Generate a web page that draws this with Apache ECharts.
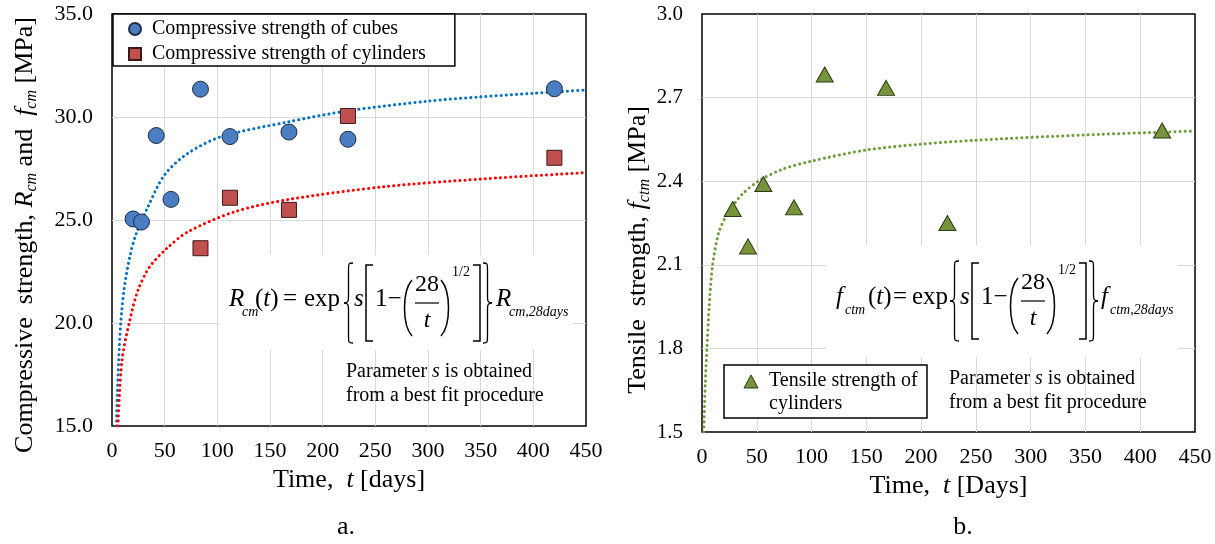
<!DOCTYPE html>
<html>
<head>
<meta charset="utf-8">
<script src="https://cdn.jsdelivr.net/npm/echarts@6/dist/echarts.min.js"></script>
<style>
  html, body { margin: 0; padding: 0; background: #fff; }
  #chart { width: 1215px; height: 544px; }
</style>
</head>
<body>
<div id="chart"></div>
<script>
// axis ticks
var xTicks = [0, 50, 100, 150, 200, 250, 300, 350, 400, 450];
var yTicksLeft = [15, 20, 25, 30, 35];
var yTicksRight = [1.5, 1.8, 2.1, 2.4, 2.7, 3.0];

// panel a. measured points
var daysCubes = [20, 28, 42, 56, 84, 112, 168, 224, 420];
var cubes = [25.05, 24.9, 29.1, 26.0, 31.35, 29.05, 29.27, 28.92, 31.37];
var daysCyl = [84, 112, 168, 224, 420];
var cylinders = [23.63, 26.08, 25.49, 30.05, 28.02];

// panel a. fitted curves
var cubeFitDays = [4.2, 5.1, 6.4, 8.3, 11.4, 16.8, 23.1, 34.2, 50, 72.4, 104, 168, 224, 300, 350, 400, 450];
var cubeFit = [15.0, 16.6, 18.2, 20.0, 21.6, 23.2, 24.35, 25.65, 27.2, 28.25, 29.05, 29.77, 30.3, 30.77, 30.98, 31.15, 31.31];
var cylFitDays = [5.7, 9.5, 16.8, 24.7, 35.8, 51.6, 72.2, 116.5, 168, 259, 351, 450];
var cylFit = [15.0, 18.2, 20.1, 21.6, 22.73, 23.6, 24.43, 25.4, 26.0, 26.62, 26.99, 27.3];

// panel b. measured points + fit
var daysTensile = [28, 42, 56, 84, 112, 168, 224, 420];
var tensile = [2.3, 2.166, 2.39, 2.306, 2.783, 2.735, 2.25, 2.582];
var tensileFitDays = [1.6, 3, 4.5, 6.6, 9.7, 15.2, 22.7, 36.4, 51.5, 72.7, 100, 150, 200, 250, 350, 450];
var tensileFit = [1.5, 1.674, 1.8, 1.95, 2.1, 2.214, 2.28, 2.352, 2.4, 2.442, 2.472, 2.512, 2.533, 2.547, 2.566, 2.58];

var FONT = 'Liberation Serif';

function pairs(xs, ys) {
  var out = [];
  for (var i = 0; i < xs.length; i++) out.push([xs[i], ys[i]]);
  return out;
}

function txt(x, y, s, size, opt) {
  opt = opt || {};
  return {
    type: 'text', x: x, y: y, z: 20, rotation: opt.rotation || 0,
    style: {
      text: s, fontSize: size, fontFamily: FONT, fill: '#000',
      fontStyle: opt.italic ? 'italic' : 'normal',
      align: opt.align || 'left', verticalAlign: 'middle',
      rich: opt.rich
    }
  };
}

var ink = function (lw) { return { fill: null, stroke: '#000', lineWidth: lw }; };

function bez(p1, c1, c2, p2, lw) {
  return { type: 'bezierCurve', z: 20,
    shape: { x1: p1[0], y1: p1[1], cpx1: c1[0], cpy1: c1[1], cpx2: c2[0], cpy2: c2[1], x2: p2[0], y2: p2[1] },
    style: ink(lw) };
}
function seg(a, b, lw) {
  return { type: 'line', z: 20, shape: { x1: a[0], y1: a[1], x2: b[0], y2: b[1] }, style: ink(lw) };
}
// tall bracket  "["  (dir 1) or "]" (dir -1)
function bracket(x, y, w, h, dir) {
  var xe = dir > 0 ? x + w : x, xs = dir > 0 ? x + 2 : x + w - 2;
  return [{ type: 'polyline', z: 20, shape: { points: [[xe, y], [xs, y], [xs, y + h], [xe, y + h]] }, style: ink(1.5) }];
}
function paren(x, y, w, h, dir) {
  var xe = dir > 0 ? x + w : x, xb = dir > 0 ? x : x + w;
  return [bez([xe, y], [xb, y + h * 0.2], [xb, y + h * 0.8], [xe, y + h], 1.5)];
}
function brace(x, y, w, h, dir) {
  var xe = dir > 0 ? x + w : x, xm = x + w / 2, xp = dir > 0 ? x : x + w, ym = y + h / 2;
  return [
    bez([xe, y], [xm, y], [xm, y], [xm, y + h * 0.1], 1.3),
    seg([xm, y + h * 0.1], [xm, y + h * 0.4], 1.3),
    bez([xm, y + h * 0.4], [xm, ym - 2], [xm, ym], [xp, ym], 1.3),
    bez([xp, ym], [xm, ym], [xm, ym + 2], [xm, y + h * 0.6], 1.3),
    seg([xm, y + h * 0.6], [xm, y + h * 0.9], 1.3),
    bez([xm, y + h * 0.9], [xm, y + h], [xm, y + h], [xe, y + h], 1.3)
  ];
}

var richI = { i: { fontStyle: 'italic', fontFamily: FONT, fontSize: 25 } };

// the fitted-law formula, f = positions of the leading part
function formula(f, dx, dy, main, sub1, sub2) {
  var y = 299 + dy;
  return [].concat(
    txt(f.main, y, main, 25, { italic: true }),
    txt(f.sub, y + 13, sub1, 14, { italic: true }),
    txt(f.par, y, '({i|t})', 25, { rich: richI }),
    txt(f.eq, y, '=', 25),
    txt(f.exp, y, 'exp', 25),
    brace(344 + dx, 263 + dy, 9, 80, 1),
    txt(354 + dx, y, 's', 25, { italic: true }),
    bracket(364 + dx, 265 + dy, 9, 76, 1),
    txt(375 + dx, y, '1\u2212', 25),
    paren(402 + dx, 280 + dy, 10, 56, 1),
    txt(427 + dx, 285 + dy, '28', 24, { align: 'center' }),
    seg([415 + dx, 303 + dy], [439 + dx, 303 + dy], 1.2),
    txt(427 + dx, 321 + dy, 't', 24, { italic: true, align: 'center' }),
    paren(441 + dx, 280 + dy, 10, 56, -1),
    txt(452 + dx, 272 + dy, '1/2', 14),
    bracket(473 + dx, 265 + dy, 9, 76, -1),
    brace(483 + dx, 263 + dy, 9, 80, -1),
    txt(f.main2, y, main, 25, { italic: true }),
    txt(f.sub2, y + 13, sub2, 14, { italic: true })
  );
}

var richTitle = {
  i: { fontStyle: 'italic', fontFamily: FONT, fontSize: 26 },
  s: { fontStyle: 'italic', fontFamily: FONT, fontSize: 16, padding: [14, 0, 0, 0] }
};
var richParam = { i: { fontStyle: 'italic', fontFamily: FONT, fontSize: 20 } };

var graphics = [
  // white boxes behind the formulas
  { type: 'rect', z: 10, shape: { x: 219, y: 255, width: 354, height: 95 }, style: { fill: '#fff' } },
  { type: 'rect', z: 10, shape: { x: 826, y: 245, width: 352, height: 112 }, style: { fill: '#fff' } },
  // y titles
  txt(25, 235, 'Compressive  strength, {i|R}{s|cm} and  {i|f}{s|cm} [MPa]', 26,
      { rotation: Math.PI / 2, align: 'center', rich: richTitle }),
  txt(638, 250, 'Tensile  strength, {i|f}{s|ctm} [MPa]', 26,
      { rotation: Math.PI / 2, align: 'center', rich: richTitle }),
  // notes
  txt(346, 372, 'Parameter {i|s} is obtained', 20, { rich: richParam }),
  txt(346, 396, 'from a best fit procedure', 20),
  txt(949, 379, 'Parameter {i|s} is obtained', 20, { rich: richParam }),
  txt(949, 403, 'from a best fit procedure', 20),
  // panel letters
  txt(346, 527, 'a.', 26, { align: 'center' }),
  txt(963, 527, 'b.', 26, { align: 'center' }),
  // right-hand legend
  { type: 'rect', z: 15, shape: { x: 724, y: 365, width: 203, height: 53 }, style: { fill: '#fff', stroke: '#000', lineWidth: 1.5 } },
  { type: 'polygon', z: 20, shape: { points: [[751, 375], [758, 388], [744, 388]] }, style: { fill: '#77933C', stroke: '#2b3814', lineWidth: 1 } },
  txt(769, 381, 'Tensile strength of', 20),
  txt(769, 404, 'cylinders', 20)
];
graphics = graphics.concat(
  formula({ main: 229, sub: 242, par: 255, eq: 283, exp: 304, main2: 496, sub2: 509 }, 0, 0, 'R', 'cm', 'cm,28days'),
  formula({ main: 836, sub: 845, par: 868, eq: 893, exp: 912, main2: 1101, sub2: 1110 }, 606, -2, 'f', 'ctm', 'ctm,28days')
);

function xAxisFor(gi, title) {
  return {
    type: 'value', gridIndex: gi,
    min: xTicks[0], max: xTicks[xTicks.length - 1], interval: 50,
    name: title, nameLocation: 'middle', nameGap: gi === 0 ? 40 : 36,
    nameTextStyle: { fontFamily: FONT, fontSize: 26, color: '#000', rich: { i: { fontStyle: 'italic', fontFamily: FONT, fontSize: 26 } } },
    axisLine: { show: false }, axisTick: { show: false },
    axisLabel: { fontFamily: FONT, fontSize: 22, color: '#000', margin: 14 },
    splitLine: { show: true, showMinLine: false, showMaxLine: false, lineStyle: { color: '#d9d9d9', width: 1 } }
  };
}

function yAxisFor(gi, ticks, step, size) {
  return {
    type: 'value', gridIndex: gi,
    min: ticks[0], max: ticks[ticks.length - 1], interval: step,
    axisLine: { show: false }, axisTick: { show: false },
    axisLabel: { fontFamily: FONT, fontSize: size, color: '#000', margin: 19,
      formatter: function (v) { return v.toFixed(1); } },
    splitLine: { show: true, showMinLine: false, showMaxLine: false, lineStyle: { color: '#d9d9d9', width: 1 } }
  };
}

var dotted = function (color) {
  return { color: color, width: 3, type: [0.1, 5], cap: 'round' };
};

var chart = echarts.init(document.getElementById('chart'));
chart.setOption({
  animation: false,
  backgroundColor: '#fff',
  grid: [
    { left: 112, top: 14, width: 474, height: 412, show: true, borderColor: '#000', borderWidth: 1.5, backgroundColor: 'transparent' },
    { left: 702, top: 14, width: 493, height: 418, show: true, borderColor: '#000', borderWidth: 1.5, backgroundColor: 'transparent' }
  ],
  xAxis: [
    xAxisFor(0, 'Time,  {i|t} [days]'),
    xAxisFor(1, 'Time,  {i|t} [Days]')
  ],
  yAxis: [
    yAxisFor(0, yTicksLeft, 5, 22),
    yAxisFor(1, yTicksRight, 0.3, 21)
  ],
  legend: {
    left: 113, top: 14, orient: 'vertical',
    data: ['Compressive strength of cubes', 'Compressive strength of cylinders'],
    itemWidth: 12, itemHeight: 12, itemGap: 5,
    padding: [5, 29, 2, 15],
    borderColor: '#000', borderWidth: 1.5, backgroundColor: '#fff',
    textStyle: { fontFamily: FONT, fontSize: 20, color: '#000', padding: [0, 0, 0, 6] },
    z: 20
  },
  graphic: graphics,
  series: [
    { type: 'line', xAxisIndex: 0, yAxisIndex: 0, data: pairs(cubeFitDays, cubeFit), smooth: 0.3,
      showSymbol: false, lineStyle: dotted('#0070C0'), silent: true, z: 3 },
    { type: 'line', xAxisIndex: 0, yAxisIndex: 0, data: pairs(cylFitDays, cylFit), smooth: 0.3,
      showSymbol: false, lineStyle: dotted('#FF0000'), silent: true, z: 3 },
    { name: 'Compressive strength of cubes', type: 'scatter', xAxisIndex: 0, yAxisIndex: 0,
      data: pairs(daysCubes, cubes), symbol: 'circle', symbolSize: 16, z: 5,
      itemStyle: { color: '#4A7EC1', borderColor: '#1f2d48', borderWidth: 1, opacity: 1 } },
    { name: 'Compressive strength of cylinders', type: 'scatter', xAxisIndex: 0, yAxisIndex: 0,
      data: pairs(daysCyl, cylinders), symbol: 'rect', symbolSize: 15, z: 5,
      itemStyle: { color: '#C0504D', borderColor: '#3b1a19', borderWidth: 1, opacity: 1 } },
    { type: 'line', xAxisIndex: 1, yAxisIndex: 1, data: pairs(tensileFitDays, tensileFit), smooth: 0.3,
      showSymbol: false, lineStyle: dotted('#6f9a3a'), silent: true, z: 3 },
    { name: 'Tensile strength of cylinders', type: 'scatter', xAxisIndex: 1, yAxisIndex: 1,
      data: pairs(daysTensile, tensile), symbol: 'triangle', symbolSize: [17, 15], z: 5,
      itemStyle: { color: '#77933C', borderColor: '#2b3814', borderWidth: 1, opacity: 1 } }
  ]
});
</script>
</body>
</html>
